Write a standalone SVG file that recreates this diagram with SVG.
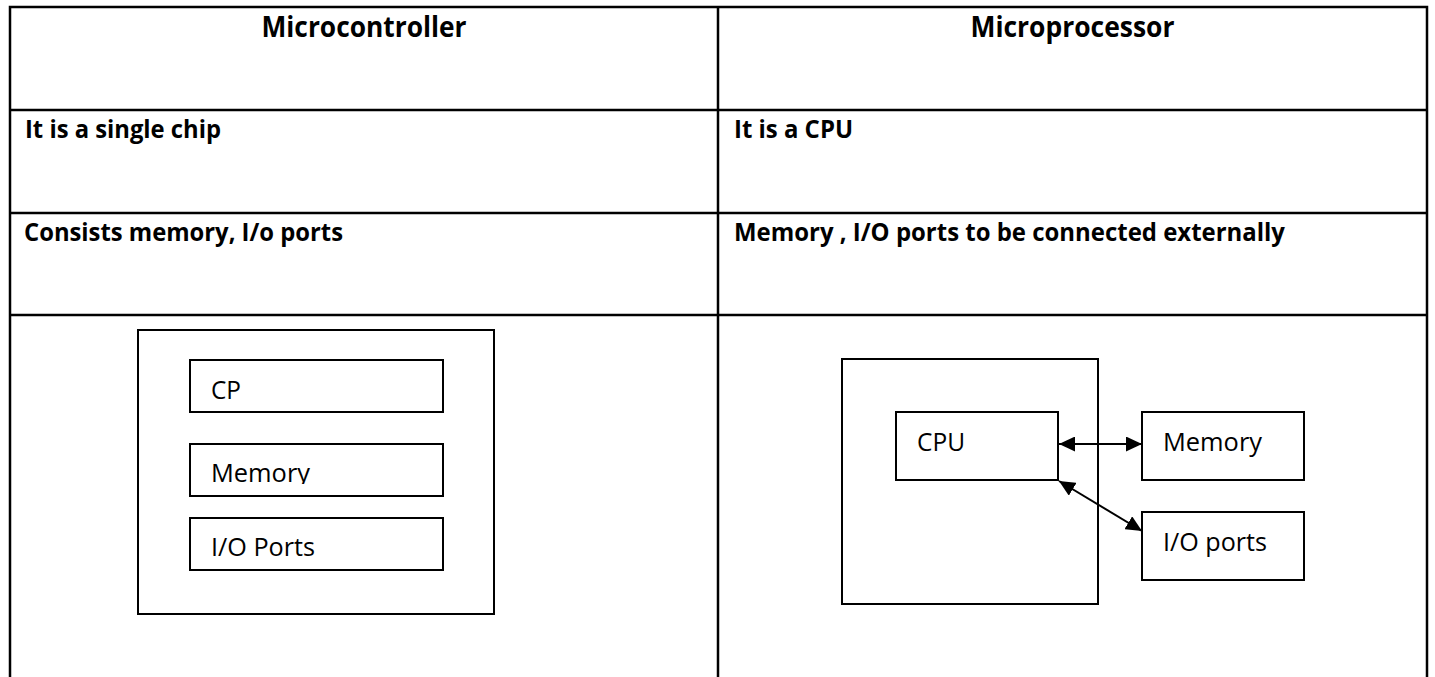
<svg xmlns="http://www.w3.org/2000/svg" width="1435" height="677" viewBox="0 0 1435 677">
<style>
.grid{stroke:#000;stroke-width:2.5;fill:none}
.box{stroke:#000;stroke-width:2;fill:#fff}
.h{font-family:"Open Sans","Liberation Sans",sans-serif;font-weight:bold;font-size:28px;fill:#000}
.b{font-family:"Open Sans","Liberation Sans",sans-serif;font-weight:bold;font-size:25.5px;fill:#000}
.t{font-family:"Open Sans","Liberation Sans",sans-serif;font-size:25.5px;fill:#000}
.conn{stroke:#000;stroke-width:2;fill:none;marker-start:url(#ah);marker-end:url(#ah)}
</style>
<defs>
<marker id="ah" markerUnits="userSpaceOnUse" markerWidth="16" markerHeight="15" refX="16" refY="7.5" orient="auto-start-reverse" viewBox="0 0 16 15">
<path d="M0,0 L16,7.5 L0,15 Z" fill="#000"/>
</marker>
<clipPath id="memclip"><rect x="190" y="444" width="253" height="40"/></clipPath>
</defs>
<rect width="1435" height="677" fill="#fff"/>
<g id="table">
<path class="grid" d="M10,677 V7 H1427 V677 M718,7 V677 M10,110 H1427 M10,213 H1427 M10,315 H1427"/>
<text class="h" x="364" y="37" text-anchor="middle" textLength="205" lengthAdjust="spacingAndGlyphs">Microcontroller</text>
<text class="h" x="1072.5" y="37" text-anchor="middle" textLength="204" lengthAdjust="spacingAndGlyphs">Microprocessor</text>
<text class="b" x="25" y="138" textLength="196" lengthAdjust="spacingAndGlyphs">It is a single chip</text>
<text class="b" x="734" y="138" textLength="119" lengthAdjust="spacingAndGlyphs">It is a CPU</text>
<text class="b" x="24" y="241" textLength="319" lengthAdjust="spacingAndGlyphs">Consists memory, I/o ports</text>
<text class="b" x="734" y="241" textLength="551" lengthAdjust="spacingAndGlyphs">Memory , I/O ports to be connected externally</text>
</g>
<g id="mc-chip"><rect class="box" x="138" y="330" width="356" height="284"/></g>
<g id="mc-cp"><rect class="box" x="190" y="360" width="253" height="52"/><text class="t" x="211" y="399" textLength="30" lengthAdjust="spacingAndGlyphs">CP</text></g>
<g id="mc-memory"><rect class="box" x="190" y="444" width="253" height="52"/><text class="t" x="211" y="482" clip-path="url(#memclip)" textLength="99" lengthAdjust="spacingAndGlyphs">Memory</text></g>
<g id="mc-io"><rect class="box" x="190" y="518" width="253" height="52"/><text class="t" x="211" y="556" textLength="104" lengthAdjust="spacingAndGlyphs">I/O Ports</text></g>
<g id="mp-chip"><rect class="box" x="842" y="359" width="256" height="245"/></g>
<g id="mp-cpu"><rect class="box" x="896" y="412" width="162" height="68"/><text class="t" x="917" y="451" textLength="48" lengthAdjust="spacingAndGlyphs">CPU</text></g>
<g id="mp-memory"><rect class="box" x="1142" y="412" width="162" height="68"/><text class="t" x="1163" y="451" textLength="99" lengthAdjust="spacingAndGlyphs">Memory</text></g>
<g id="mp-io"><rect class="box" x="1142" y="512" width="162" height="68"/><text class="t" x="1163" y="551" textLength="104" lengthAdjust="spacingAndGlyphs">I/O ports</text></g>
<g id="connectors">
<line class="conn" x1="1059" y1="444" x2="1142" y2="444"/>
<line class="conn" x1="1059" y1="481" x2="1142" y2="531"/>
</g>
</svg>
